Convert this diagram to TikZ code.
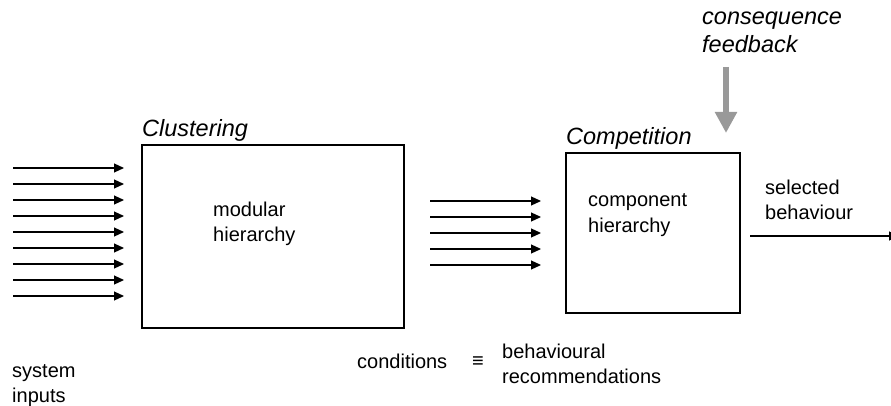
\documentclass[tikz,border=0pt]{standalone}
\usepackage{fontspec}
\setmainfont{Liberation Sans}
\usetikzlibrary{arrows.meta,positioning}

\tikzset{
    box/.style={draw, line width=1.2pt, minimum width=#1},
    inarrow/.style={line width=1.1pt, -{Triangle[length=10pt,width=9pt]}},
    feedarrow/.style={line width=6pt, gray!80, -{Triangle[length=21pt,width=21pt]}},
    lbl/.style={inner sep=0pt, align=left, anchor=base west, font=\fontsize{20}{25}\selectfont},
    title/.style={lbl, font=\fontsize{23.5}{28}\selectfont\itshape}
}

\begin{document}
\begin{tikzpicture}[x=1pt,y=-1pt]
            \useasboundingbox (0,0) rectangle (891,406);
            \clip (0,0) rectangle (891,406);

            \node[box=262pt, minimum height=183pt] (clust) at (273,236.5) {};
            \node[box=174pt, minimum height=160pt] (comp) at (653,233) {};

            \node[title] (clustname) at (142,137) {Clustering};
            \node[title] (compname) at (566,145) {Competition};
            \node[title] (feed) at (702,53) {consequence\\feedback};

            \node[lbl] (modular) at (213,241) {modular\\hierarchy};
            \node[lbl] (component) at (588,232) {component\\hierarchy};
            \node[lbl] (selected) at (765,219) {selected\\behaviour};
            \node[lbl] (inputs) at (12,402) {system\\inputs};
            \node[lbl] (cond) at (357,368) {conditions};
            \node[lbl] (equiv) at (472,367) {≡};
            \node[lbl] (recomm) at (502,383) {behavioural\\recommendations};

            \foreach \i in {0,...,8}
                \draw[inarrow] (13,168+16*\i) coordinate (in\i) -- (124,168+16*\i) coordinate (inend\i);
            \foreach \i in {0,...,4}
                \draw[inarrow] (430,201+16*\i) coordinate (mid\i) -- (541,201+16*\i) coordinate (midend\i);

            \coordinate (feedtop) at (726,67);
            \coordinate (feedend) at (726,133);
            \draw[feedarrow] (feedtop) -- (feedend);

            \coordinate (outstart) at (750,236);
            \coordinate (outend) at (899,236);
            \draw[inarrow] (outstart) -- (outend);
        \end{tikzpicture}
\end{document}
